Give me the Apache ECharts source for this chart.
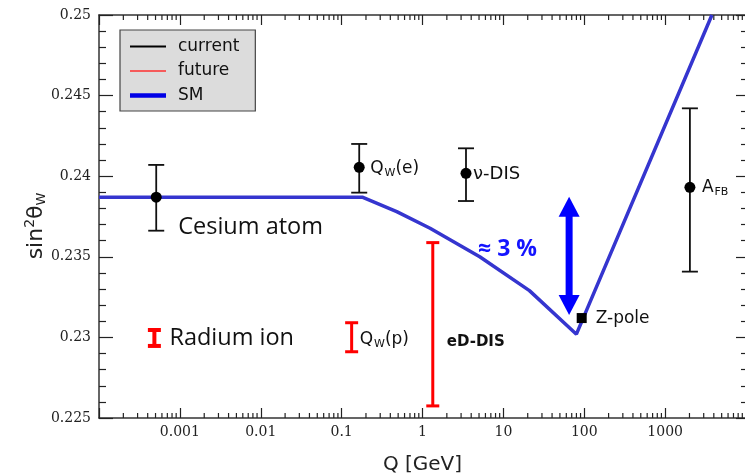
<!DOCTYPE html>
<html><head><meta charset="utf-8">
<script src="https://cdn.jsdelivr.net/npm/echarts@6/dist/echarts.min.js"></script>
<style>html,body{margin:0;padding:0;background:#fff}#c{width:745px;height:474px}</style>
</head><body><div id="c"></div>
<script>
// ---------- data ----------
const xTickLabels = ['', '0.001', '0.01', '0.1', '1', '10', '100', '1000', ''];
const yTickLabels = ['0.225', '0.23', '0.235', '0.24', '0.245', '0.25'];
const decades = [1e-4, 1e-3, 1e-2, 1e-1, 1, 10, 100, 1000];
const minorMultipliers = [2, 3, 4, 5, 6, 7, 8, 9];

const smQ   = [1e-4, 0.18, 0.48, 1.24, 5.1, 21, 80, 3790];
const smVal = [0.2387, 0.2387, 0.2378, 0.23677, 0.2350, 0.2329, 0.2302, 0.2500];

const currentNames = ['Cesium atom', 'Q_W(e)', 'ν-DIS', 'A_FB'];
const currentQ     = [5.1e-4, 0.165, 3.45, 2025];
const currentVal   = [0.2387, 0.24055, 0.24018, 0.23931];
const currentLow   = [0.23662, 0.23898, 0.23846, 0.23408];
const currentHigh  = [0.24070, 0.24200, 0.24173, 0.24421];

const zpoleNames = ['Z-pole'];
const zpoleQ     = [93];
const zpoleVal   = [0.2312];

const futureNames = ['Radium ion', 'Q_W(p)', 'eD-DIS'];
const futureQ     = [4.84e-4, 0.133, 1.34];
const futureLow   = [0.22947, 0.22911, 0.22575];
const futureHigh  = [0.23046, 0.23091, 0.23588];

const arrowNames = ['≈ 3 %'];
const arrowQ     = [65];
const arrowLow   = [0.23139];
const arrowHigh  = [0.23873];

const legendNames = ['current', 'future', 'SM'];
const yTitle = '{a|sin}{p|2}{a|θ}{b|W}';
const Y_MIN = 0.225, Y_MAX = 0.25, Y_STEP = 0.005;

// ---------- styles ----------
const SANS = 'DejaVu Sans';
const labelStyle = {
  'Cesium atom': {dx: 22, dy: 30, family: 'Open Sans', size: 23.5},
  'Q_W(e)':      {dx: 11, dy: 1},
  'ν-DIS':       {dx: 7,  dy: 1, size: 18},
  'A_FB':        {dx: 12, dy: 0},
  'Z-pole':      {dx: 14, dy: 1, size: 17},
  'Radium ion':  {dx: 15, dy: 0, family: 'Open Sans', size: 23.5},
  'Q_W(p)':      {dx: 8,  dy: 2},
  'eD-DIS':      {dx: 14, dy: 18, size: 15, weight: 'bold'},
  '≈ 3 %':       {dx: -91, dy: -6, family: 'Open Sans', size: 23, weight: 'bold', color: '#1414ff'}
};
const RICH = {
  m: {fontFamily: SANS, fontSize: 17, fill: '#111', color: '#111'},
  s: {fontFamily: SANS, fontSize: 11, fill: '#111', color: '#111', padding: [9, 0, 0, 1]}
};

function textEl(name, x, y) {
  const st = labelStyle[name] || {};
  const m = /^(.*?)_([A-Z]+)(.*)$/.exec(name);
  const style = {
    x: x + (st.dx || 0), y: y + (st.dy || 0),
    align: 'left', verticalAlign: 'middle',
    fill: st.color || '#111'
  };
  if (m) {
    style.text = '{m|' + m[1] + '}{s|' + m[2] + '}' + (m[3] ? '{m|' + m[3] + '}' : '');
    style.rich = RICH;
  } else {
    style.text = name;
    style.fontFamily = st.family || SANS;
    style.fontSize = st.size || 17;
    style.fontWeight = st.weight || 'normal';
  }
  return {type: 'text', style: style, z2: 20};
}

function renderCurrent(params, api) {
  const q = api.value(0), lo = api.value(1), hi = api.value(2), v = api.value(3);
  const pl = api.coord([q, lo]), ph = api.coord([q, hi]), pv = api.coord([q, v]);
  const s = {stroke: '#111', lineWidth: 1.8};
  const cap = 8;
  return {type: 'group', children: [
    {type: 'line', shape: {x1: pl[0], y1: pl[1], x2: ph[0], y2: ph[1]}, style: s},
    {type: 'line', shape: {x1: pl[0] - cap, y1: pl[1], x2: pl[0] + cap, y2: pl[1]}, style: s},
    {type: 'line', shape: {x1: ph[0] - cap, y1: ph[1], x2: ph[0] + cap, y2: ph[1]}, style: s},
    {type: 'circle', shape: {cx: pv[0], cy: pv[1], r: 5.5}, style: {fill: '#000'}},
    textEl(currentNames[params.dataIndex], pv[0], pv[1])
  ]};
}

function renderZpole(params, api) {
  const p = api.coord([api.value(0), api.value(1)]);
  return {type: 'group', children: [
    {type: 'rect', shape: {x: p[0] - 5, y: p[1] - 5, width: 10, height: 10}, style: {fill: '#000'}},
    textEl(zpoleNames[params.dataIndex], p[0], p[1])
  ]};
}

function renderFuture(params, api) {
  const q = api.value(0), lo = api.value(1), hi = api.value(2);
  const pl = api.coord([q, lo]), ph = api.coord([q, hi]);
  const lw = params.dataIndex === 0 ? 4 : 3;
  const s = {stroke: '#ff0000', lineWidth: lw};
  const cap = 6.5;
  return {type: 'group', children: [
    {type: 'line', shape: {x1: pl[0], y1: pl[1], x2: ph[0], y2: ph[1]}, style: s},
    {type: 'line', shape: {x1: pl[0] - cap, y1: pl[1], x2: pl[0] + cap, y2: pl[1]}, style: s},
    {type: 'line', shape: {x1: ph[0] - cap, y1: ph[1], x2: ph[0] + cap, y2: ph[1]}, style: s},
    textEl(futureNames[params.dataIndex], pl[0], (pl[1] + ph[1]) / 2)
  ]};
}

function renderArrow(params, api) {
  const q = api.value(0), lo = api.value(1), hi = api.value(2);
  const pt = api.coord([q, hi]), pb = api.coord([q, lo]);
  const x = pt[0], hw = 10.5, hl = 20, sw = 7;
  const c = '#0000ff';
  return {type: 'group', children: [
    {type: 'polygon', shape: {points: [[x, pt[1]], [x - hw, pt[1] + hl], [x + hw, pt[1] + hl]]}, style: {fill: c}},
    {type: 'polygon', shape: {points: [[x, pb[1]], [x - hw, pb[1] - hl], [x + hw, pb[1] - hl]]}, style: {fill: c}},
    {type: 'rect', shape: {x: x - sw / 2, y: pt[1] + hl - 1, width: sw, height: pb[1] - pt[1] - 2 * hl + 2}, style: {fill: c}},
    textEl(arrowNames[params.dataIndex], x, (pt[1] + pb[1]) / 2)
  ]};
}

const minorTickQ = [];
decades.forEach(d => minorMultipliers.forEach(m => minorTickQ.push(d * m)));

function renderMinor(params, api) {
  const q = api.value(0);
  const b = api.coord([q, Y_MIN]), t = api.coord([q, Y_MAX]);
  const s = {stroke: '#222', lineWidth: 1.2};
  return {type: 'group', children: [
    {type: 'line', shape: {x1: b[0], y1: b[1], x2: b[0], y2: b[1] - 5}, style: s},
    {type: 'line', shape: {x1: t[0], y1: t[1], x2: t[0], y2: t[1] + 5}, style: s}
  ]};
}

const axisLineStyle = {color: '#333', width: 1.5};
const tickLineStyle = {color: '#222', width: 1.2};

const chart = echarts.init(document.getElementById('c'), null, {renderer: 'canvas'});
chart.setOption({
  animation: false,
  backgroundColor: '#fff',
  grid: {left: 99, top: 15, right: -1, bottom: 56, containLabel: false, outerBoundsMode: 'none'},
  graphic: [{
    type: 'text', x: 36, y: 226, rotation: Math.PI / 2, z: 10,
    style: {
      text: yTitle, align: 'center', verticalAlign: 'middle',
      rich: {
        a: {fontFamily: SANS, fontSize: 22, fill: '#222'},
        p: {fontFamily: SANS, fontSize: 14, fill: '#222', padding: [0, 0, 11, 0]},
        b: {fontFamily: SANS, fontSize: 13, fill: '#222', padding: [11, 0, 0, 0]}
      }
    }
  }],
  legend: {
    orient: 'vertical', left: 120, top: 30,
    backgroundColor: '#dcdcdc', borderColor: '#444', borderWidth: 1.2, borderRadius: 0,
    padding: [8, 16, 7, 10], itemWidth: 36, itemHeight: 14, itemGap: 7.5,
    textStyle: {fontFamily: SANS, fontSize: 17, color: '#111', padding: [0, 0, 0, 7]},
    selectedMode: false,
    data: [
      {name: legendNames[0], icon: 'path://M0,0H36V2H0Z', itemStyle: {color: '#000', borderWidth: 0}},
      {name: legendNames[1], icon: 'path://M0,0H36V1.6H0Z', itemStyle: {color: '#ff3030', borderWidth: 0}},
      {name: legendNames[2], icon: 'path://M0,0H36V4.6H0Z', itemStyle: {color: '#0000e6', borderWidth: 0}}
    ]
  },
  xAxis: [{
    type: 'log', logBase: 10, min: 1e-4, max: 1e4, position: 'bottom',
    axisLine: {show: true, lineStyle: axisLineStyle},
    axisTick: {show: true, inside: true, length: 10, lineStyle: tickLineStyle},
    axisLabel: {margin: 7, fontFamily: 'DejaVu Serif', fontSize: 14, color: '#222',
      formatter: v => xTickLabels[Math.round(Math.log10(v)) + 4] || ''},
    splitLine: {show: false},
    name: 'Q [GeV]', nameLocation: 'middle', nameGap: 37,
    nameTextStyle: {fontFamily: SANS, fontSize: 20, color: '#222'}
  }, {
    type: 'log', logBase: 10, min: 1e-4, max: 1e4, position: 'top',
    axisLine: {show: true, lineStyle: axisLineStyle},
    axisTick: {show: true, inside: true, length: 10, lineStyle: tickLineStyle},
    axisLabel: {show: false}, splitLine: {show: false}
  }],
  yAxis: [{
    type: 'value', min: Y_MIN, max: Y_MAX, interval: Y_STEP, position: 'left',
    axisLine: {show: true, lineStyle: axisLineStyle},
    axisTick: {show: true, inside: true, length: 14, lineStyle: tickLineStyle},
    minorTick: {show: true, splitNumber: 5, length: 7, lineStyle: tickLineStyle},
    axisLabel: {margin: 8, fontFamily: 'DejaVu Serif', fontSize: 14, color: '#222',
      formatter: v => yTickLabels[Math.round((v - Y_MIN) / Y_STEP)]},
    splitLine: {show: false}
  }, {
    type: 'value', min: Y_MIN, max: Y_MAX, interval: Y_STEP, position: 'right',
    axisLine: {show: true, lineStyle: axisLineStyle},
    axisTick: {show: true, inside: true, length: 10, lineStyle: tickLineStyle},
    minorTick: {show: true, splitNumber: 5, length: 5, lineStyle: tickLineStyle},
    axisLabel: {show: false}, splitLine: {show: false}
  }],
  series: [
    {type: 'custom', name: 'minor', silent: true, renderItem: renderMinor,
     data: minorTickQ.map(q => [q, Y_MIN]), z: 1},
    {type: 'line', name: 'SM', data: smQ.map((q, i) => [q, smVal[i]]),
     symbol: 'none', showSymbol: false, clip: true,
     lineStyle: {color: '#3535cf', width: 3.5}, itemStyle: {color: '#0000e6'}, z: 2},
    {type: 'custom', name: 'current', renderItem: renderCurrent, itemStyle: {color: '#000'},
     encode: {x: 0, y: [1, 2, 3]},
     data: currentQ.map((q, i) => [q, currentLow[i], currentHigh[i], currentVal[i]]), z: 5},
    {type: 'custom', name: 'zpole', renderItem: renderZpole,
     data: zpoleQ.map((q, i) => [q, zpoleVal[i]]), z: 5},
    {type: 'custom', name: 'future', renderItem: renderFuture, itemStyle: {color: '#ff0000'},
     encode: {x: 0, y: [1, 2]},
     data: futureQ.map((q, i) => [q, futureLow[i], futureHigh[i]]), z: 5},
    {type: 'custom', name: 'arrow', renderItem: renderArrow,
     encode: {x: 0, y: [1, 2]},
     data: arrowQ.map((q, i) => [q, arrowLow[i], arrowHigh[i]]), z: 6}
  ]
});
</script>
</body></html>
